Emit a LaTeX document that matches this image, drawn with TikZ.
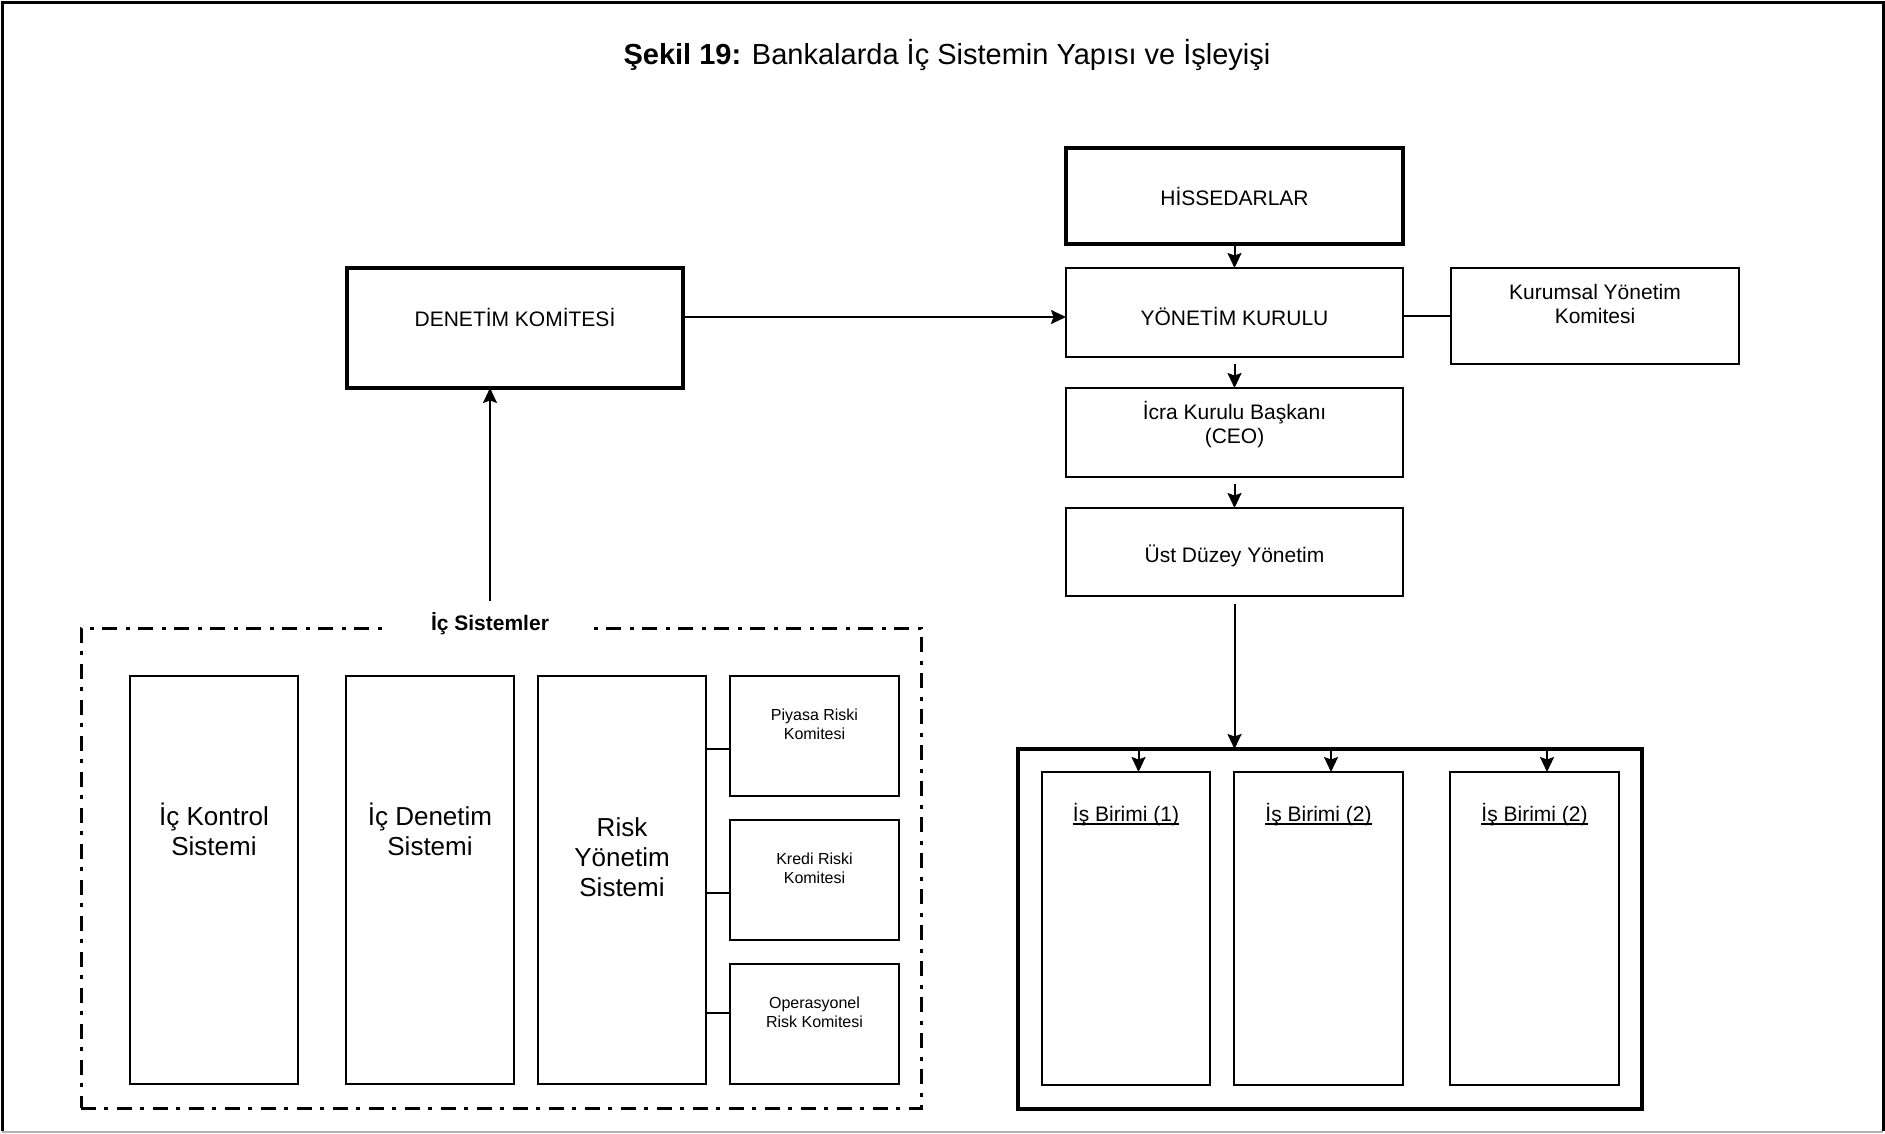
\documentclass[tikz,border=0pt]{standalone}
\usepackage{fontspec}
\setmainfont{Liberation Sans}
\usetikzlibrary{arrows.meta}
% underline drawn close under the baseline
\newcommand\ulword[1]{\setbox0\hbox{#1}\rlap{\rule[-3pt]{\wd0}{1.5pt}}\box0}
\tikzset{
  box/.style={draw, line width=2pt, rectangle, inner sep=0pt, outer sep=0pt},
  thickbox/.style={box, line width=4pt},
  txt/.style={font=\fontsize{21}{24}\selectfont, align=center, inner sep=0pt},
  bigtxt/.style={font=\fontsize{26}{30}\selectfont, align=center, inner sep=0pt},
  smalltxt/.style={font=\fontsize{16}{19}\selectfont, align=center, inner sep=0pt},
  arr/.style={line width=2pt, -{Stealth[length=15pt,width=14pt,inset=2.5pt]}},
  link/.style={line width=2pt},
  dashdot/.style={draw, line width=3pt, dash pattern=on 15pt off 8pt on 4pt off 9pt, inner sep=0pt}
}
\begin{document}
\begin{tikzpicture}[x=1pt,y=-1pt]
\useasboundingbox (0,0) rectangle (1885,1133);
% outer frame
\draw[line width=3pt] (2,1131) -- (2,2.5) -- (1883,2.5) -- (1883,1131);
\draw[line width=2pt, gray!60] (2,1132) -- (1883,1132);

% title
\node[font=\fontsize{29}{33}\selectfont, inner sep=0pt] (title) at (947,55)
  {\textbf{Şekil 19:} Bankalarda İç Sistemin Yapısı ve İşleyişi};

% management chain
\node[thickbox, minimum width=337pt, minimum height=96pt] (hiss) at (1234.5,196) {};
\node[txt] (hissT) at (1234.5,196) {HİSSEDARLAR};
\node[box, minimum width=337pt, minimum height=89pt] (yon) at (1234.5,312.5) {};
\node[txt] (yonT) at (1234.5,316) {YÖNETİM KURULU};
\node[box, minimum width=288pt, minimum height=96pt] (kur) at (1595,316) {};
\node[txt] (kurT) at (1595,304) {Kurumsal Yönetim\\Komitesi};
\node[box, minimum width=337pt, minimum height=89pt] (icra) at (1234.5,432.5) {};
\node[txt] (icraT) at (1234.5,425) {İcra Kurulu Başkanı\\(CEO)};
\node[box, minimum width=337pt, minimum height=88pt] (ust) at (1234.5,552) {};
\node[txt] (ustT) at (1234.5,556) {Üst Düzey Yönetim};

% audit committee
\node[thickbox, minimum width=336pt, minimum height=120pt] (den) at (515,328) {};
\node[txt] (denT) at (515,317) {DENETİM KOMİTESİ};

% business units
\node[thickbox, minimum width=624pt, minimum height=360pt] (cont) at (1330,929) {};
\node[box, minimum width=168pt, minimum height=313pt] (is1) at (1126,928.5) {};
\node[box, minimum width=169pt, minimum height=313pt] (is2) at (1318.5,928.5) {};
\node[box, minimum width=169pt, minimum height=313pt] (is3) at (1534.5,928.5) {};
\node[txt] (is1T) at (1126,815) {\ulword{İş Birimi (1)}};
\node[txt] (is2T) at (1318.5,815) {\ulword{İş Birimi (2)}};
\node[txt] (is3T) at (1534.5,815) {\ulword{İş Birimi (2)}};

% internal systems
\node[dashdot, minimum width=840pt, minimum height=480pt] (icsys) at (501,868) {};
\node[txt, font=\fontsize{21}{24}\selectfont\bfseries, fill=white, inner xsep=45pt, inner ysep=2pt] (icT) at (490,624) {İç Sistemler};
\node[box, minimum width=168pt, minimum height=408pt] (kon) at (214,880) {};
\node[bigtxt] (konT) at (214,829) {İç Kontrol\\Sistemi};
\node[box, minimum width=168pt, minimum height=408pt] (dens) at (430,880) {};
\node[bigtxt] (densT) at (430,829) {İç Denetim\\Sistemi};
\node[box, minimum width=168pt, minimum height=408pt] (risk) at (622,880) {};
\node[bigtxt] (riskT) at (622,857) {Risk\\Yönetim\\Sistemi};
\node[box, minimum width=169pt, minimum height=120pt] (piy) at (814.5,736) {};
\node[smalltxt] (piyT) at (814.5,724.5) {Piyasa Riski\\Komitesi};
\node[box, minimum width=169pt, minimum height=120pt] (kre) at (814.5,880) {};
\node[smalltxt] (kreT) at (814.5,868.5) {Kredi Riski\\Komitesi};
\node[box, minimum width=169pt, minimum height=120pt] (ops) at (814.5,1024) {};
\node[smalltxt] (opsT) at (814.5,1012) {Operasyonel\\Risk Komitesi};

% connectors
\draw[arr] (hiss.south) -- (yon.north);
\draw[arr, shorten <=7pt] (yon.south) -- (icra.north);
\draw[arr, shorten <=7pt] (icra.south) -- (ust.north);
\draw[arr, shorten <=8pt] (ust.south) -- (ust.south |- cont.north);
\draw[link] (yon.east |- yonT) -- (kur.west |- yonT);
\draw[arr] (den.east |- denT) -- (yon.west |- denT);
\draw[arr, shorten <=10pt] (icT.north) -- (icT.north |- den.south);
\foreach \u in {is1,is2,is3}
  \draw[arr] ([xshift=12.5pt]\u.north |- cont.north) -- ([xshift=12.5pt]\u.north);
\draw[link] (risk.east |- 0,748.6) -- (piy.west |- 0,748.6);
\draw[link] (risk.east |- 0,892.5) -- (kre.west |- 0,892.5);
\draw[link] (risk.east |- 0,1012.5) -- (ops.west |- 0,1012.5);
\end{tikzpicture}
\end{document}
